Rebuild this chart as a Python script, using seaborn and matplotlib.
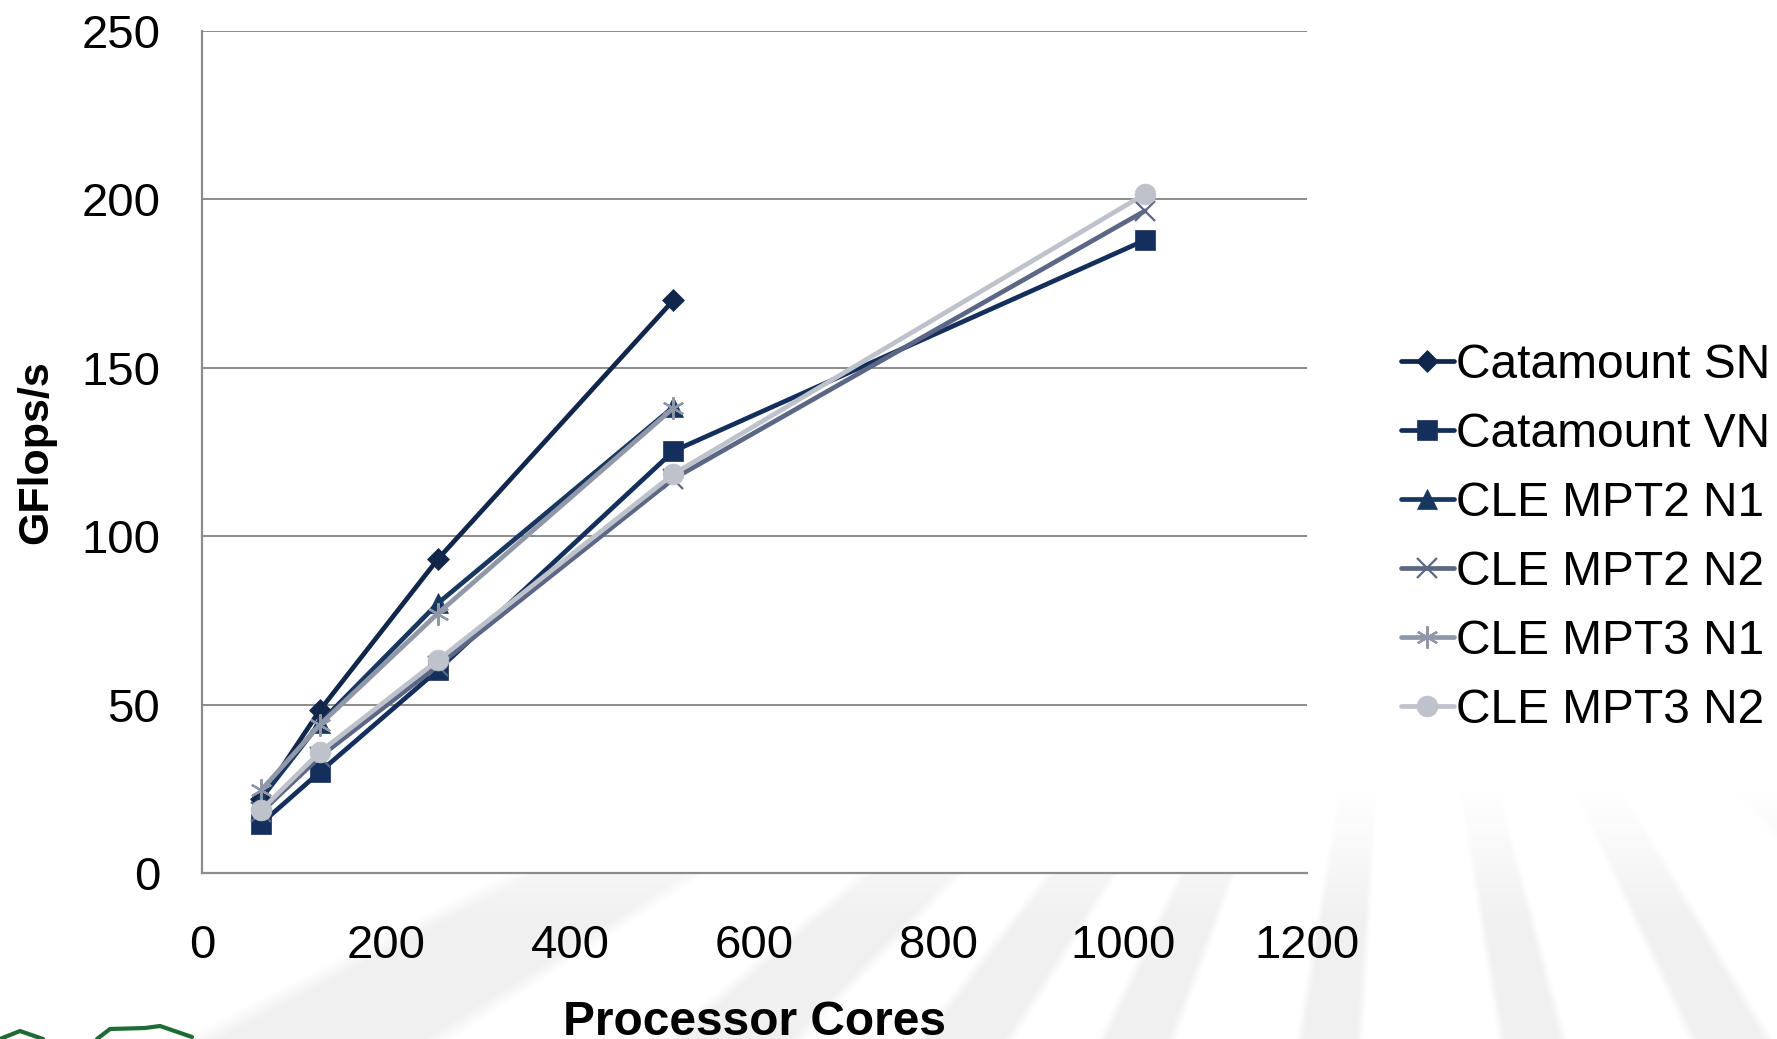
import numpy as np
import pandas as pd
import matplotlib
matplotlib.use("Agg")
import matplotlib.pyplot as plt
from matplotlib.lines import Line2D
import seaborn as sns

# Processor core counts and measured performance (GFlops/s)
cores = [64, 128, 256, 512, 1024]
catamount_sn = [22.0, 48.3, 93.1, 170.0, None]
catamount_vn = [14.6, 30.0, 60.2, 125.2, 187.8]
cle_mpt2_n1 = [22.0, 44.5, 80.0, 138.3, None]
cle_mpt2_n2 = [18.0, 34.5, 61.5, 117.0, 196.5]
cle_mpt3_n1 = [24.5, 44.0, 77.0, 138.0, None]
cle_mpt3_n2 = [18.6, 35.9, 63.1, 118.4, 201.5]

series_names = ["Catamount SN", "Catamount VN", "CLE MPT2 N1",
                "CLE MPT2 N2", "CLE MPT3 N1", "CLE MPT3 N2"]
series_values = [catamount_sn, catamount_vn, cle_mpt2_n1,
                 cle_mpt2_n2, cle_mpt3_n1, cle_mpt3_n2]
series_colors = ["#10264b", "#152f5c", "#18375f", "#5b6785", "#9097a8", "#bec2cb"]
series_markers = ["D", "s", "^", "x", (6, 2, 0), "o"]
marker_sizes = [11, 14, 14, 15, 16, 15]

x_ticks = [0, 200, 400, 600, 800, 1000, 1200]
y_ticks = [0, 50, 100, 150, 200, 250]

sns.set_theme(style="white")
plt.rcParams["font.family"] = ["Liberation Sans", "DejaVu Sans"]
plt.rcParams["text.color"] = "black"

W, H = 1777, 1039
fig = plt.figure(figsize=(W / 100, H / 100), dpi=100)
fig.patch.set_facecolor("white")

# faint sunburst in the slide background: rays fanning downward, fading out upward
hub_x, hub_y = 1400.0, 420.0
ray_dirs = np.array([-60.0, -47.0, -35.0, -23.0, -6.5, 12.0, 28.0, 45.0])
ray_width = 5.5
yy, xx = np.mgrid[0:H, 0:W].astype(float)
dx, dy = xx - hub_x, yy - hub_y
ang = np.degrees(np.arctan2(dx, dy))
dist = np.min(np.abs(ang[..., None] - ray_dirs[None, None, :]), axis=-1)
stripe = np.clip((ray_width / 2 - dist) / 0.8 + 0.5, 0, 1)
fade = np.clip((yy - 790.0) / 130.0, 0, 1)
shade = 1.0 - 0.055 * stripe * fade
bg = np.dstack([shade, shade, shade, np.ones_like(shade)])
fig.figimage(bg, xo=0, yo=0, origin="upper", zorder=-10)

ax = fig.add_axes([202 / W, 1 - 873 / H, (1307 - 202) / W, (873 - 30.6) / H])
ax.set_facecolor("white")
ax.set_zorder(2)

for name, vals, col, mk, ms in zip(series_names, series_values, series_colors,
                                   series_markers, marker_sizes):
    df = pd.DataFrame({"cores": cores, "gflops": vals}).dropna()
    unfilled = mk == "x" or isinstance(mk, tuple)
    sns.lineplot(data=df, x="cores", y="gflops", ax=ax, color=col, lw=3.4,
                 marker=mk, markersize=ms, markeredgecolor=col, markerfacecolor=col,
                 markeredgewidth=1.6 if unfilled else 0.5, label=name, legend=False,
                 errorbar=None)

ax.set_xlim(0, 1200)
ax.set_ylim(0, 250)
ax.set_xticks(x_ticks)
ax.set_yticks(y_ticks)
ax.set_xticklabels([str(t) for t in x_ticks], fontsize=34, color="black")
ax.set_yticklabels([str(t) for t in y_ticks], fontsize=34, color="black")
ax.tick_params(axis="x", length=0, pad=37)
ax.tick_params(axis="y", length=0, pad=30)
ax.yaxis.grid(True, color="#8c8c8c", lw=1.4)
ax.xaxis.grid(False)
for side in ["top", "right"]:
    ax.spines[side].set_visible(False)
for side in ["left", "bottom"]:
    ax.spines[side].set_color("#8c8c8c")
    ax.spines[side].set_linewidth(1.6)

ax.set_xlabel("Processor Cores", fontsize=34.5, fontweight="bold", labelpad=23,
              color="black")
ax.set_ylabel("GFlops/s", fontsize=31, fontweight="bold", labelpad=18, color="black")

handles = [Line2D([0], [0], color=c, lw=3.4, marker=m, markersize=s,
                  markeredgecolor=c, markerfacecolor=c,
                  markeredgewidth=1.6 if (m == "x" or isinstance(m, tuple)) else 0.5)
           for c, m, s in zip(series_colors, series_markers, marker_sizes)]
leg = fig.legend(handles, series_names, loc="center left",
                 bbox_to_anchor=(1401 / W, 1 - 538 / H), frameon=False,
                 fontsize=34.5, handlelength=1.1, handletextpad=0.05,
                 labelspacing=0.50, borderpad=0, borderaxespad=0)
for t in leg.get_texts():
    t.set_color("black")

# corner of the green emblem peeking in at the bottom left
fig.add_artist(Line2D([0, 20 / W, 43 / W], [0, 1 - 1031 / H, 0],
                      transform=fig.transFigure, color="#1e6b34", lw=3))
fig.add_artist(Line2D([97 / W, 110 / W, 145 / W, 160 / W, 192 / W],
                      [0, 1 - 1029 / H, 1 - 1028 / H, 1 - 1026 / H, 1 - 1037 / H],
                      transform=fig.transFigure, color="#1e6b34", lw=3))

fig.savefig("out.png", dpi=100, facecolor="white")
